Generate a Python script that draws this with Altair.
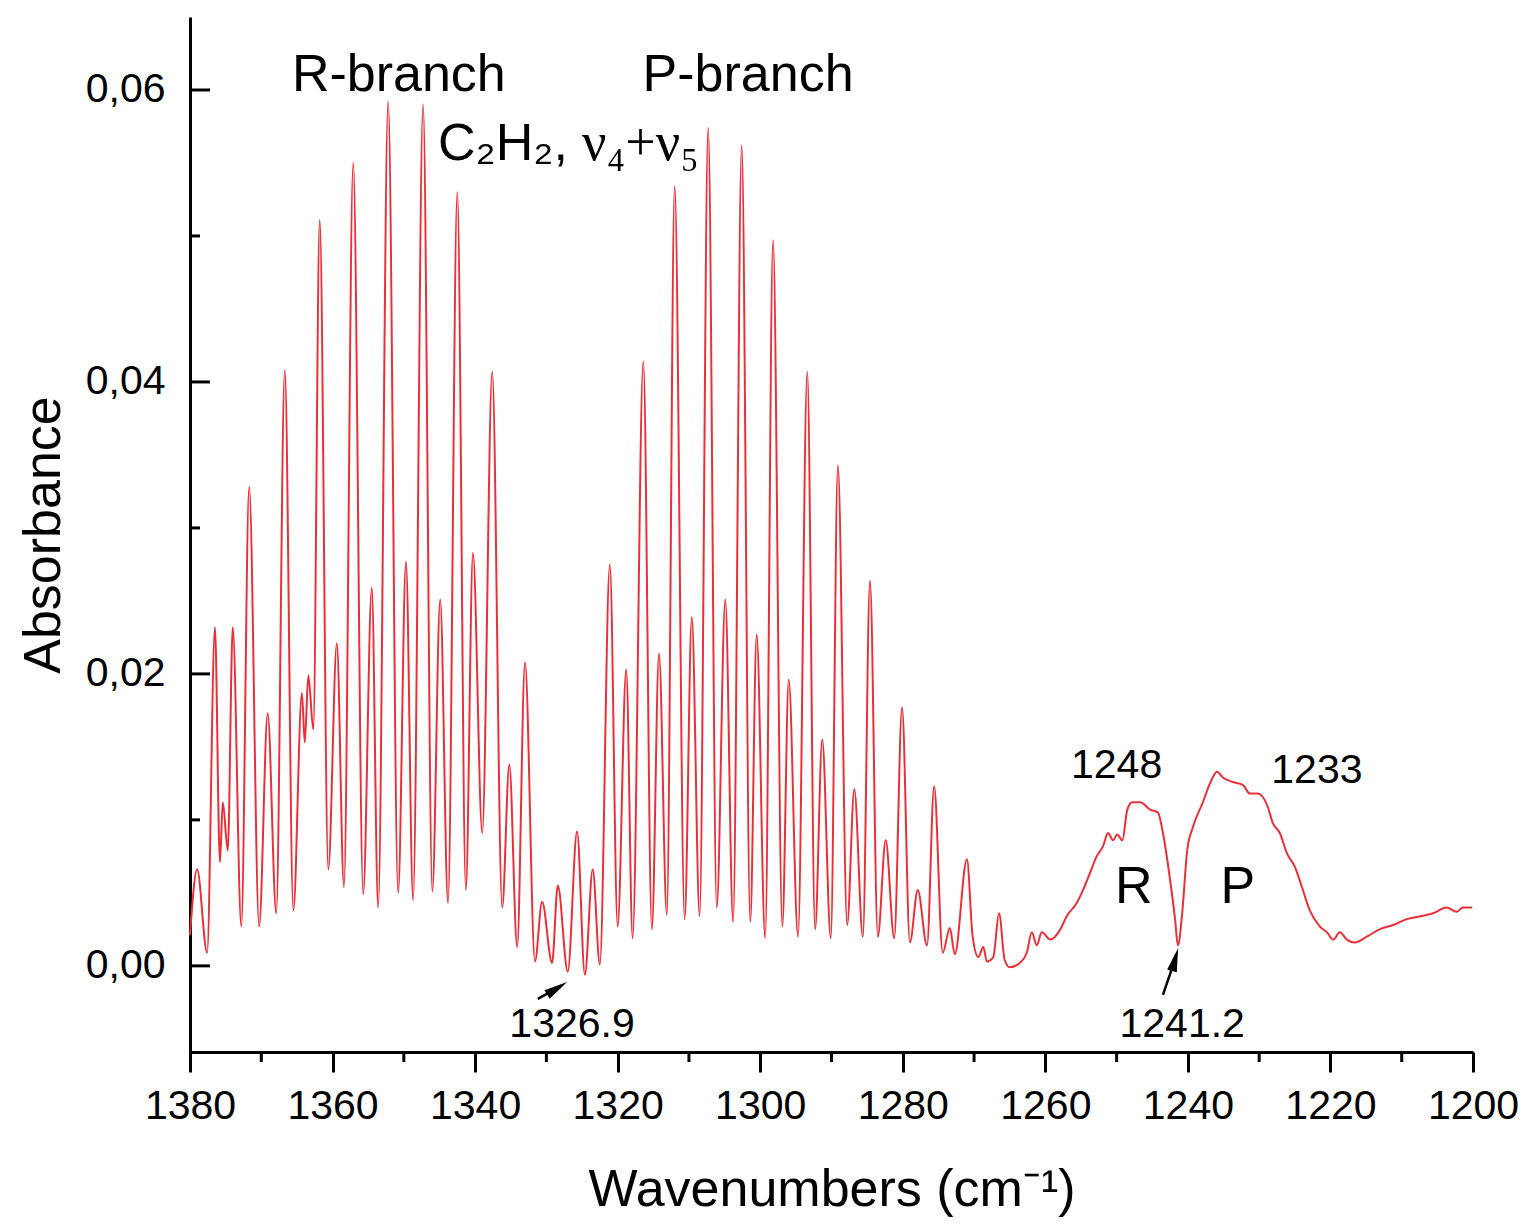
import altair as alt
import pandas as pd

# ---- spectrum (wavenumber cm-1, absorbance) ----
wavenumber = [
    1380.0, 1379.0, 1377.6, 1376.5, 1375.8, 1375.4, 1374.7, 1374.0, 1372.8, 1371.7,
    1370.3, 1369.1, 1367.9, 1366.7, 1365.5, 1364.3, 1363.9, 1363.4, 1362.7, 1361.8,
    1360.6, 1359.4, 1358.4, 1357.1, 1355.7, 1354.5, 1353.6, 1352.2, 1350.8, 1349.7,
    1348.7, 1347.3, 1346.0, 1344.9, 1343.8, 1342.5, 1341.3, 1340.3, 1339.0, 1337.6,
    1336.2, 1335.2, 1334.1, 1333.0, 1331.6, 1330.6, 1329.2, 1328.4, 1327.0, 1325.7,
    1324.6, 1323.5, 1322.5, 1321.1, 1320.0, 1318.8, 1317.9, 1316.4, 1315.2, 1314.2,
    1313.1, 1312.0, 1310.6, 1309.6, 1308.5, 1307.3, 1306.1, 1304.9, 1303.8, 1302.6,
    1301.4, 1300.5, 1299.3, 1298.2, 1296.9, 1296.0, 1294.7, 1293.4, 1292.3, 1291.3,
    1290.1, 1289.1, 1287.8, 1286.8, 1285.6, 1284.6, 1283.5, 1282.4, 1281.2, 1280.1,
    1279.0, 1277.9, 1276.6, 1275.6, 1274.4, 1273.4, 1272.7, 1271.0, 1270.2, 1269.4,
    1268.7, 1268.2, 1267.3, 1266.5, 1265.7, 1265.0, 1263.6, 1262.6, 1261.9, 1261.2,
    1260.5, 1259.3, 1257.9, 1257.0, 1255.6, 1254.7, 1253.7, 1252.8, 1251.9, 1251.2,
    1250.5, 1249.9, 1249.2, 1248.5, 1247.8, 1246.7, 1245.3, 1244.2, 1243.5, 1242.5,
    1241.8, 1241.4, 1240.8, 1240.1, 1239.3, 1237.9, 1236.9, 1235.9, 1235.1, 1233.7,
    1232.3, 1231.3, 1230.2, 1228.8, 1228.1, 1227.1, 1226.1, 1225.0, 1224.0, 1222.9,
    1221.5, 1220.5, 1219.6, 1218.7, 1217.7, 1216.6, 1214.9, 1213.1, 1211.2, 1209.3,
    1207.4, 1205.6, 1203.7, 1202.3, 1201.4, 1200.1,
]
absorbance = [
    0.0021, 0.0066, 0.0009, 0.0232, 0.0071, 0.0112, 0.0079, 0.0232, 0.0027, 0.0328,
    0.0027, 0.0173, 0.0036, 0.0408, 0.0038, 0.0187, 0.0153, 0.0199, 0.0162, 0.0511,
    0.0066, 0.0221, 0.0054, 0.0550, 0.0049, 0.0259, 0.0040, 0.0592, 0.0050, 0.0277,
    0.0045, 0.0590, 0.0051, 0.0251, 0.0043, 0.0530, 0.0052, 0.0283, 0.0091, 0.0407,
    0.0040, 0.0138, 0.0013, 0.0208, 0.0003, 0.0044, 0.0002, 0.0055, -0.0004, 0.0092,
    -0.0006, 0.0066, 0.0001, 0.0275, 0.0027, 0.0203, 0.0019, 0.0414, 0.0025, 0.0214,
    0.0035, 0.0534, 0.0032, 0.0239, 0.0034, 0.0574, 0.0040, 0.0251, 0.0030, 0.0562,
    0.0030, 0.0227, 0.0019, 0.0497, 0.0027, 0.0196, 0.0020, 0.0407, 0.0025, 0.0155,
    0.0019, 0.0343, 0.0028, 0.0121, 0.0020, 0.0264, 0.0020, 0.0086, 0.0019, 0.0177,
    0.0016, 0.0052, 0.0014, 0.0123, 0.0009, 0.0026, 0.0008, 0.0073, 0.0020, 0.0006,
    0.0013, 0.0003, 0.0006, 0.0036, 0.0004, -0.0001, 0.0002, 0.0009, 0.0023, 0.0014,
    0.0023, 0.0018, 0.0025, 0.0034, 0.0043, 0.0052, 0.0064, 0.0075, 0.0082, 0.0091,
    0.0086, 0.0090, 0.0086, 0.0107, 0.0112, 0.0112, 0.0107, 0.0105, 0.0091, 0.0059,
    0.0032, 0.0014, 0.0036, 0.0079, 0.0095, 0.0112, 0.0125, 0.0133, 0.0129, 0.0126,
    0.0124, 0.0118, 0.0118, 0.0109, 0.0098, 0.0091, 0.0077, 0.0068, 0.0054, 0.0038,
    0.0027, 0.0023, 0.0018, 0.0023, 0.0018, 0.0016, 0.0020, 0.0025, 0.0028, 0.0032,
    0.0034, 0.0036, 0.0040, 0.0037, 0.0040, 0.0040,
]

# ---- axes ----
x_major = [1380, 1360, 1340, 1320, 1300, 1280, 1260, 1240, 1220, 1200]
x_minor = [1370, 1350, 1330, 1310, 1290, 1270, 1250, 1230, 1210]
y_major = [0.0, 0.02, 0.04, 0.06]
y_minor = [0.01, 0.03, 0.05]

# ---- annotations ----
big_labels = ["R-branch", "P-branch", "R", "P"]
big_x = [1350.7, 1301.7, 1247.6, 1233.0]
big_y = [0.0599, 0.0599, 0.0043, 0.0043]

num_labels = ["1326.9", "1241.2", "1248", "1233"]
num_x = [1326.4, 1240.8, 1250.0, 1221.9]
num_y = [-0.00486, -0.00486, 0.0129, 0.0125]

arrow_x_tail = [1331.2, 1243.5]
arrow_y_tail = [-0.00226, -0.00199]
arrow_x_head = [1328.5, 1241.8]
arrow_y_head = [-0.00153, 0.00044]
arrow_angle = [58, 15]

W, H = 1283, 1035
FONT = "Liberation Sans"
RED = "#e8303a"

xs = alt.Scale(domain=[1200, 1380], reverse=True, nice=False, zero=False)
ys = alt.Scale(domain=[-0.0059, 0.065], nice=False, zero=False)

X_AXIS = alt.Axis(
    values=x_major, format="d", tickSize=20, tickWidth=3, tickColor="black",
    domainWidth=3, domainColor="black", labelFontSize=41, labelFont=FONT,
    labelColor="black", labelPadding=14, labelFlush=False, grid=False,
    title="Wavenumbers (cm⁻¹)", titleFont=FONT, titleFontSize=52,
    titleFontWeight="normal", titleColor="black", titlePadding=38,
)
Y_AXIS = alt.Axis(
    values=y_major,
    labelExpr="replace(format(datum.value, '.2f'), '.', ',')",
    ticks=False, tickSize=0, domainWidth=3, domainColor="black",
    labelFontSize=41, labelFont=FONT, labelColor="black", labelPadding=25,
    grid=False, title="Absorbance", titleFont=FONT, titleFontSize=52,
    titleFontWeight="normal", titleColor="black", titlePadding=15,
)


def X(field):
    return alt.X(field, scale=xs, axis=X_AXIS)


def Y(field):
    return alt.Y(field, scale=ys, axis=Y_AXIS)


spec = pd.DataFrame({"wn": wavenumber, "a": absorbance})

line = alt.Chart(spec).mark_line(
    color=RED, strokeWidth=2, interpolate="monotone"
).encode(x=X("wn:Q"), y=Y("a:Q"))

ymaj = alt.Chart(pd.DataFrame({"v": y_major})).mark_rule(color="black", strokeWidth=3).encode(
    y=Y("v:Q"), x=alt.value(0), x2=alt.value(20)
)
ymin = alt.Chart(pd.DataFrame({"v": y_minor})).mark_rule(color="black", strokeWidth=3).encode(
    y=Y("v:Q"), x=alt.value(0), x2=alt.value(10)
)
xmin = alt.Chart(pd.DataFrame({"v": x_minor})).mark_rule(color="black", strokeWidth=3).encode(
    x=X("v:Q"), y=alt.value(H), y2=alt.value(H + 10)
)

big = alt.Chart(pd.DataFrame({"t": big_labels, "x": big_x, "y": big_y})).mark_text(
    font=FONT, fontSize=52, color="black", align="center", baseline="alphabetic"
).encode(x=X("x:Q"), y=Y("y:Q"), text="t:N")

nums = alt.Chart(pd.DataFrame({"t": num_labels, "x": num_x, "y": num_y})).mark_text(
    font=FONT, fontSize=41, color="black", align="center", baseline="alphabetic"
).encode(x=X("x:Q"), y=Y("y:Q"), text="t:N")

mol = alt.Chart(pd.DataFrame({"t": ["C₂H₂,"], "x": [1345.2], "y": [0.0552]})).mark_text(
    font=FONT, fontSize=52, color="black", align="left", baseline="alphabetic"
).encode(x=X("x:Q"), y=Y("y:Q"), text="t:N")

mode = alt.Chart(pd.DataFrame({"t": ["ν₄+ν₅"], "x": [1325.0], "y": [0.0552]})).mark_text(
    font="Liberation Serif", fontSize=54, color="black", align="left", baseline="alphabetic"
).encode(x=X("x:Q"), y=Y("y:Q"), text="t:N")

arr_df = pd.DataFrame({
    "x1": arrow_x_tail, "y1": arrow_y_tail,
    "x2": arrow_x_head, "y2": arrow_y_head, "ang": arrow_angle,
})
shaft = alt.Chart(arr_df).mark_rule(color="black", strokeWidth=2.5).encode(
    x=X("x1:Q"), y=Y("y1:Q"), x2="x2:Q", y2="y2:Q",
)
head = alt.Chart(arr_df).mark_point(
    shape="M0,-1L0.42,1L-0.42,1Z", filled=True, color="black", size=560, opacity=1
).encode(
    x=X("x2:Q"), y=Y("y2:Q"), angle=alt.Angle("ang:Q", scale=None),
)

chart = alt.layer(line, ymaj, ymin, xmin, big, nums, mol, mode, shaft, head).properties(
    width=W, height=H,
    autosize=alt.AutoSizeParams(type="none"),
    padding={"left": 190, "top": 17, "right": 55, "bottom": 173},
    background="white",
).configure_view(stroke=None)

chart.save("out.html", embed_options={"renderer": "svg", "actions": False})
